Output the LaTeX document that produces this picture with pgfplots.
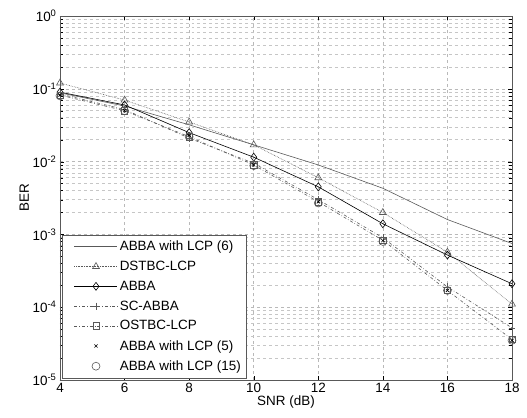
\documentclass[border=0pt]{standalone}
\usepackage{fontspec}
\setmainfont{Liberation Sans}
\usepackage{pgfplots}
\pgfplotsset{compat=1.18}
\usetikzlibrary{calc}
\begin{document}
\begin{tikzpicture}
\begin{axis}[
  ymode=log, scale only axis, width=452bp, height=364bp,
  xmin=4, xmax=18, ymin=1e-5, ymax=1,
  xtick={4,6,...,18},
  ytick={1e-5,1e-4,1e-3,1e-2,1e-1,1},
  yticklabels={10\textsuperscript{-5},10\textsuperscript{-4},10\textsuperscript{-3},10\textsuperscript{-2},10\textsuperscript{-1},10\textsuperscript{0}},
  /pgf/number format/assume math mode=true,
  tick label style={font=\fontsize{13.5}{15}\selectfont},
  label style={font=\fontsize{13.5}{15}\selectfont},
  xlabel={SNR (dB)}, ylabel={BER},
  xlabel style={yshift=4pt}, ylabel style={yshift=-3pt},
  grid=both,
  major grid style={dashed, gray!55, line width=0.6pt},
  minor grid style={dashed, gray!45, line width=0.6pt},
  tick style={black},
  axis line style={gray!70!black, line width=0.6pt},
  every axis plot/.append style={line width=0.6pt},
  legend style={at={(0,0)}, xshift=2bp, yshift=2bp, anchor=south west, draw=gray!70!black, fill=white,
    font=\fontsize{13.5}{15.5}\selectfont, row sep=5pt, inner xsep=3bp, inner ysep=4bp},
  legend cell align=left,
  legend image code/.code={\path (0bp,0bp); \draw[mark repeat=2,mark phase=2] plot coordinates {(9bp,0bp)(30.5bp,0bp)(52bp,0bp)};},
]
\addplot[gray!70!black, no markers] coordinates {(4,0.088)(6,0.058)(8,0.032)(10,0.017)(12,0.009)(14,0.0043)(16,0.0016)(18,0.00075)};
\addlegendentry{ABBA with LCP (6)}
\addplot[gray!70!black, densely dotted, mark=triangle, mark size=4pt, mark options={solid}] coordinates {(4,0.12)(6,0.07)(8,0.035)(10,0.017)(12,0.006)(14,0.002)(16,0.00057)(18,0.00011)};
\addlegendentry{DSTBC-LCP}
\addplot[black, mark=diamond, mark size=4pt] coordinates {(4,0.09)(6,0.06)(8,0.025)(10,0.0115)(12,0.0045)(14,0.0014)(16,0.00052)(18,0.00021)};
\addlegendentry{ABBA}
\addplot[gray!70!black, dashdotted, mark=+, mark size=3.5pt, mark options={solid}] coordinates {(4,0.085)(6,0.052)(8,0.021)(10,0.0095)(12,0.003)(14,0.0009)(16,0.00019)(18,0.000052)};
\addlegendentry{SC-ABBA}
\addplot[gray!70!black, dashdotted, mark=square, mark size=3.2pt, mark options={solid}] coordinates {(4,0.082)(6,0.05)(8,0.022)(10,0.009)(12,0.0028)(14,0.00083)(16,0.00017)(18,0.000036)};
\addlegendentry{OSTBC-LCP}
\addplot[only marks, black, mark=x, mark size=2.2pt] coordinates {(4,0.082)(6,0.05)(8,0.023)(10,0.009)(12,0.0028)(14,0.00082)(16,0.00017)(18,0.000035)};
\addlegendentry{ABBA with LCP (5)}
\addplot[only marks, gray!70!black, mark=o, mark size=4pt] coordinates {(4,0.08)(6,0.05)(8,0.022)(10,0.0088)(12,0.0027)(14,0.0008)(16,0.00017)(18,0.000035)};
\addlegendentry{ABBA with LCP (15)}
\end{axis}
\pgfresetboundingbox
\path[use as bounding box] ($(current axis.south west)+(-60bp,-38bp)$) rectangle ($(current axis.north east)+(15bp,16bp)$);
\end{tikzpicture}
\end{document}
